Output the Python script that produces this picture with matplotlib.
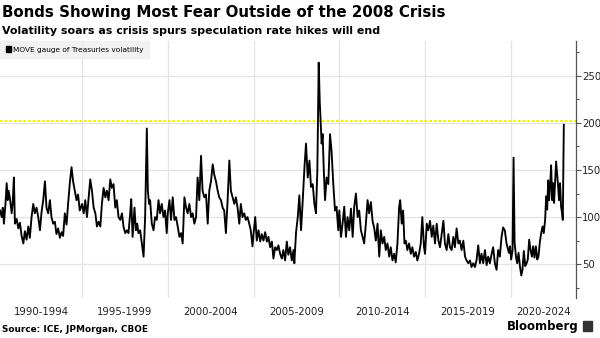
import matplotlib
matplotlib.use("Agg")
import matplotlib.pyplot as plt
import matplotlib.patches as mpatches
from matplotlib.ticker import MultipleLocator

# MOVE index (decimal year, index level)
years = [
    1990.22, 1990.32, 1990.38, 1990.45, 1990.53, 1990.61, 1990.67, 1990.72, 1990.80, 1990.90,
    1990.96, 1991.03, 1991.09, 1991.19, 1991.29, 1991.38, 1991.48, 1991.58, 1991.67, 1991.77,
    1991.87, 1991.96, 1992.06, 1992.16, 1992.25, 1992.35, 1992.45, 1992.55, 1992.64, 1992.74,
    1992.84, 1992.93, 1993.03, 1993.13, 1993.22, 1993.32, 1993.42, 1993.51, 1993.61, 1993.71,
    1993.81, 1993.90, 1994.00, 1994.10, 1994.19, 1994.29, 1994.39, 1994.48, 1994.58, 1994.68,
    1994.77, 1994.87, 1994.97,
    1995.00, 1995.10, 1995.19, 1995.29, 1995.39, 1995.48, 1995.58, 1995.68, 1995.78, 1995.87,
    1995.97, 1996.07, 1996.16, 1996.26, 1996.36, 1996.45, 1996.55, 1996.65, 1996.74, 1996.84,
    1996.94, 1997.03, 1997.13, 1997.23, 1997.33, 1997.42, 1997.52, 1997.62, 1997.71, 1997.81,
    1997.87, 1997.95, 1998.00, 1998.06, 1998.14, 1998.22, 1998.29, 1998.39, 1998.49, 1998.59,
    1998.68, 1998.78, 1998.84, 1998.91, 1998.97, 1999.07, 1999.17, 1999.26, 1999.36, 1999.46,
    1999.55, 1999.65, 1999.75, 1999.84, 1999.94,
    2000.00, 2000.10, 2000.19, 2000.29, 2000.39, 2000.48, 2000.58, 2000.68, 2000.78, 2000.87,
    2000.97, 2001.07, 2001.16, 2001.26, 2001.36, 2001.45, 2001.55, 2001.65, 2001.74, 2001.84,
    2001.94, 2002.03, 2002.13, 2002.23, 2002.33, 2002.42, 2002.52, 2002.62, 2002.71, 2002.81,
    2002.91, 2003.00, 2003.10, 2003.20, 2003.29, 2003.39, 2003.49, 2003.59, 2003.68, 2003.78,
    2003.88, 2003.97, 2004.07, 2004.17, 2004.26, 2004.36, 2004.46, 2004.55, 2004.65, 2004.75,
    2004.84, 2004.94,
    2005.00, 2005.10, 2005.19, 2005.29, 2005.39, 2005.48, 2005.58, 2005.68, 2005.78, 2005.87,
    2005.97, 2006.07, 2006.16, 2006.26, 2006.36, 2006.45, 2006.55, 2006.65, 2006.74, 2006.84,
    2006.94, 2007.03, 2007.13, 2007.23, 2007.33, 2007.38, 2007.48, 2007.58, 2007.67, 2007.77,
    2007.87, 2007.97, 2008.06, 2008.16, 2008.26, 2008.35, 2008.45, 2008.55, 2008.64, 2008.72,
    2008.80, 2008.86, 2008.91, 2008.97, 2009.03, 2009.09, 2009.17, 2009.26, 2009.36, 2009.46,
    2009.55, 2009.65, 2009.75, 2009.84, 2009.94,
    2010.00, 2010.10, 2010.19, 2010.29, 2010.39, 2010.48, 2010.58, 2010.68, 2010.78, 2010.87,
    2010.97, 2011.07, 2011.16, 2011.26, 2011.36, 2011.45, 2011.55, 2011.65, 2011.74, 2011.84,
    2011.94, 2012.03, 2012.13, 2012.23, 2012.33, 2012.42, 2012.52, 2012.62, 2012.71, 2012.81,
    2012.91, 2013.00, 2013.10, 2013.20, 2013.29, 2013.39, 2013.49, 2013.55, 2013.64, 2013.72,
    2013.80, 2013.88, 2013.97, 2014.07, 2014.17, 2014.26, 2014.36, 2014.46, 2014.55, 2014.65,
    2014.75, 2014.84, 2014.94,
    2015.00, 2015.10, 2015.19, 2015.29, 2015.39, 2015.48, 2015.58, 2015.68, 2015.78, 2015.87,
    2015.97, 2016.07, 2016.16, 2016.26, 2016.36, 2016.45, 2016.55, 2016.65, 2016.74, 2016.84,
    2016.94, 2017.03, 2017.13, 2017.23, 2017.33, 2017.42, 2017.52, 2017.62, 2017.71, 2017.81,
    2017.91, 2018.00, 2018.10, 2018.20, 2018.29, 2018.39, 2018.49, 2018.59, 2018.68, 2018.78,
    2018.88, 2018.97, 2019.07, 2019.17, 2019.26, 2019.36, 2019.46, 2019.55, 2019.65, 2019.75,
    2019.89, 2019.95, 2020.02, 2020.10, 2020.16, 2020.22, 2020.30, 2020.37, 2020.45, 2020.53,
    2020.61, 2020.68, 2020.76, 2020.84, 2020.92, 2020.99, 2021.07, 2021.15, 2021.23, 2021.30,
    2021.38, 2021.46, 2021.54, 2021.61, 2021.69, 2021.77, 2021.85, 2021.92, 2022.00, 2022.06,
    2022.12, 2022.18, 2022.23, 2022.29, 2022.35, 2022.41, 2022.47, 2022.52, 2022.58, 2022.64,
    2022.70, 2022.76, 2022.81, 2022.87, 2022.93, 2022.99, 2023.03, 2023.09,
]
move = [
    107, 100, 110, 93, 112, 136, 118, 128, 120, 104,
    115, 142, 93, 98, 88, 94, 80, 72, 85, 76,
    90, 78, 100, 114, 104, 110, 100, 86, 105, 118,
    138, 110, 104, 118, 100, 93, 95, 82, 88, 78,
    84, 80, 104, 92, 114, 136, 153, 138, 128, 118,
    124, 107, 112,
    114, 104, 118, 100, 121, 140, 128, 110, 104, 90,
    95, 90, 114, 131, 121, 128, 118, 140, 131, 135,
    110, 118, 100, 97, 104, 90, 83, 86, 83, 104,
    119, 79, 93, 110, 86, 93, 83, 86, 72, 58,
    100, 194, 128, 114, 118, 93, 86, 100, 97, 118,
    104, 114, 100, 107, 83,
    104, 118, 97, 121, 97, 100, 90, 79, 83, 72,
    121, 110, 104, 114, 100, 104, 93, 100, 142, 118,
    165, 128, 121, 124, 93, 128, 138, 156, 145, 138,
    128, 121, 118, 110, 107, 83, 118, 160, 128, 121,
    114, 121, 110, 93, 114, 100, 104, 97, 100, 93,
    86, 69,
    82, 100, 75, 86, 74, 82, 75, 84, 74, 79,
    68, 74, 56, 68, 65, 70, 61, 56, 65, 54,
    74, 60, 68, 54, 65, 51, 84, 100, 123, 86,
    118, 153, 178, 142, 160, 132, 135, 114, 104, 149,
    264, 223, 202, 178, 188, 153, 118, 142, 135, 188,
    170, 135, 107, 111, 86,
    107, 79, 93, 111, 79, 100, 86, 109, 79, 111,
    125, 100, 107, 86, 79, 72, 93, 118, 104, 116,
    96, 89, 75, 93, 58, 86, 72, 79, 65, 72,
    58, 68, 54, 61, 52, 72, 111, 118, 93, 107,
    72, 75, 65, 72, 61, 68, 58, 63, 54, 61,
    72, 100, 68,
    61, 93, 86, 96, 79, 91, 72, 93, 75, 68,
    82, 96, 72, 65, 82, 68, 65, 79, 68, 88,
    72, 75, 65, 75, 58, 54, 51, 54, 47, 51,
    47, 54, 70, 51, 61, 51, 65, 49, 58, 51,
    61, 68, 51, 44, 65, 58, 79, 89, 86, 72,
    62, 69, 55, 65, 163, 73, 58, 51, 62, 48,
    38, 44, 64, 48, 51, 55, 76, 65, 58, 69,
    57, 69, 55, 58, 73, 83, 90, 83, 97, 122,
    108, 139, 118, 132, 155, 118, 136, 115, 136, 159,
    146, 132, 118, 136, 111, 104, 97, 198,
]

period_starts = [1990, 1995, 2000, 2005, 2010, 2015, 2020]
period_labels = ["1990-1994", "1995-1999", "2000-2004", "2005-2009",
                 "2010-2014", "2015-2019", "2020-2024"]
reference_level = 202

x_min, x_max = 1990.22, 2023.8

fig = plt.figure(figsize=(6, 3.38), dpi=100)
ax = fig.add_axes([0.0, 0.118, 0.96, 0.761])

ax.plot(years, move, color="black", lw=1.35, zorder=3)
ax.axhline(reference_level, color="#f2f20a", lw=1.6, ls=(0, (1.2, 0.9)), zorder=2)

ax.set_xlim(x_min, x_max)
ax.set_ylim(14, 287)

# vertical grid at period boundaries, labels centred on visible part of each period
for s in period_starts[1:]:
    ax.axvline(s, color="#e4e4e4", lw=0.9, zorder=0)
ax.set_xticks([])
for s, lab in zip(period_starts, period_labels):
    lo = max(s, x_min)
    hi = min(s + 5, x_max)
    ax.text((lo + hi) / 2, -0.055, lab, transform=ax.get_xaxis_transform(),
            ha="center", va="center", fontsize=7.3, color="#222222")

ax.yaxis.tick_right()
ax.yaxis.set_major_locator(MultipleLocator(50))
ax.yaxis.set_minor_locator(MultipleLocator(25))
ax.tick_params(axis="y", which="major", length=3.5, width=0.8, color="#555555",
               labelsize=7.3, labelcolor="#222222", pad=1)
ax.tick_params(axis="y", which="minor", length=2.5, width=0.8, color="#555555")
ax.grid(axis="y", color="#e4e4e4", lw=0.9, zorder=0)
ax.set_axisbelow(True)

for side in ["top", "left", "bottom"]:
    ax.spines[side].set_visible(False)
ax.spines["right"].set_color("#555555")
ax.spines["right"].set_linewidth(0.9)

# legend box
leg_handle = mpatches.Patch(color="black", label="MOVE gauge of Treasuries volatility")
leg = ax.legend(handles=[leg_handle], loc="upper left", bbox_to_anchor=(0.0, 1.0),
                fontsize=5.3, frameon=True, handlelength=0.7, handleheight=0.7,
                handletextpad=0.35, borderpad=0.75, borderaxespad=0.0, fancybox=False)
leg.get_frame().set_facecolor("#efefef")
leg.get_frame().set_edgecolor("#efefef")

fig.text(0.003, 0.962, "Bonds Showing Most Fear Outside of the 2008 Crisis",
         fontsize=10.8, fontweight="bold", ha="left", va="center")
fig.text(0.003, 0.908, "Volatility soars as crisis spurs speculation rate hikes will end",
         fontsize=7.9, fontweight="bold", ha="left", va="center")
fig.text(0.003, 0.025, "Source: ICE, JPMorgan, CBOE",
         fontsize=6.4, fontweight="bold", ha="left", va="center")
fig.text(0.965, 0.035, "Bloomberg", fontsize=8.5, fontweight="bold",
         ha="right", va="center")
fig.patches.append(mpatches.Rectangle((0.972, 0.02), 0.014, 0.03,
                                      transform=fig.transFigure, color="#333333"))

fig.savefig("out.png", dpi=100)
